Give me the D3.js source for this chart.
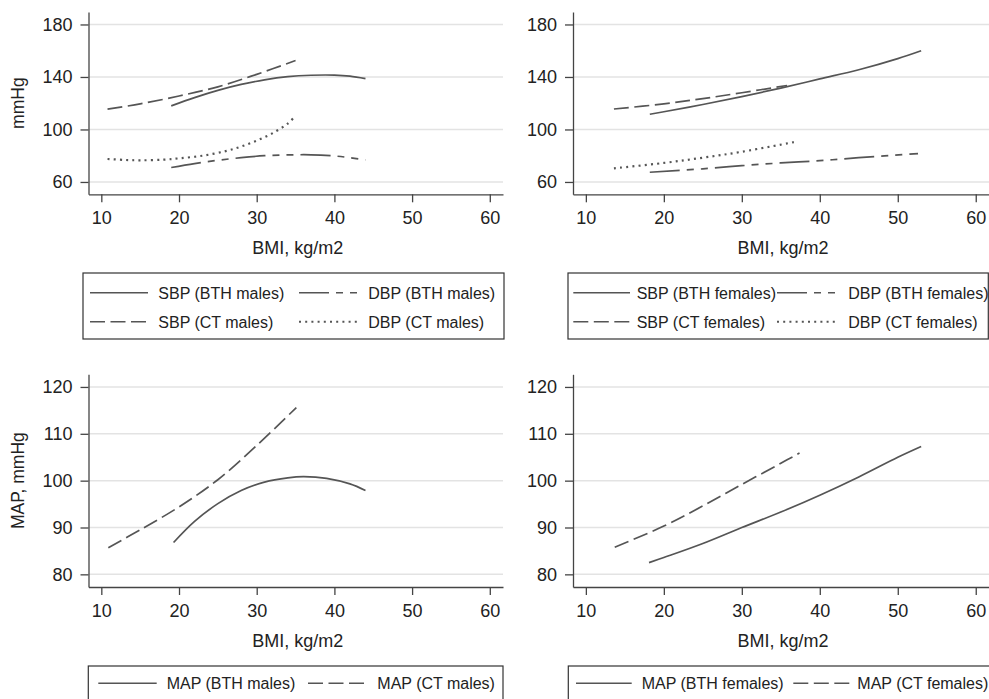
<!DOCTYPE html>
<html>
<head>
<meta charset="utf-8">
<script src="https://cdn.jsdelivr.net/npm/d3@7"></script>
<style>
  body { margin: 0; background: #fff; }
  svg text { font-family: "Liberation Sans", Arial, Helvetica, sans-serif; fill: #222; }
</style>
</head>
<body>
<svg width="989" height="699"></svg>
<script>
// tick values
var bmiTicks = [10, 20, 30, 40, 50, 60];
var bpTicks = [60, 100, 140, 180];
var mapTicks = [80, 90, 100, 110, 120];

// males, blood pressure [BMI, mmHg]
var sbpBthMales = [[19, 118], [22, 124.3], [25, 129.8], [28, 134.3], [31, 137.8], [34, 140.2], [37, 141.3], [40, 141.4], [42, 140.6], [44, 138.7]];
var dbpBthMales = [[19, 71], [22, 74], [25, 76.5], [28, 78.5], [31, 80], [34, 80.6], [37, 80.7], [40, 79.8], [42, 78.5], [44, 76.8]];
var sbpCtMales = [[10.8, 115.5], [15, 119.5], [20, 125.5], [25, 132.5], [30, 142], [35, 152.5]];
var dbpCtMales = [[10.8, 77.5], [13, 76.8], [15, 76.5], [18, 77], [20, 78], [23, 80], [26, 83.5], [28, 87], [30, 91.5], [32, 97], [34, 104.5], [34.7, 108.5]];

// females, blood pressure
var sbpBthFemales = [[18.2, 111.6], [20, 113.5], [25, 119], [30, 125], [35, 131.5], [40, 138.5], [45, 145.5], [50, 154], [53, 160]];
var dbpBthFemales = [[18.2, 67.4], [25, 70], [30, 72.4], [35, 74.5], [40, 76.2], [45, 78.5], [52.6, 81.6]];
var sbpCtFemales = [[13.6, 115.6], [20, 119.5], [25, 123.5], [30, 128], [35.8, 133.5]];
var dbpCtFemales = [[13.6, 70.4], [20, 74.5], [25, 78.5], [30, 83], [36.8, 90.5]];

// mean arterial pressure
var mapBthMales = [[19.3, 86.8], [22, 91.3], [25, 95.1], [28, 97.9], [31, 99.7], [34, 100.6], [36, 100.85], [39, 100.5], [42, 99.3], [44, 97.9]];
var mapCtMales = [[10.9, 85.7], [15, 89.5], [20, 94.4], [25, 100.2], [30, 107.5], [35.1, 115.6]];
var mapBthFemales = [[18.1, 82.5], [20, 83.6], [25, 86.6], [30, 90], [35, 93.3], [40, 96.9], [45, 100.8], [50, 105], [53, 107.3]];
var mapCtFemales = [[13.7, 85.8], [20, 90.3], [25, 94.6], [30, 99.2], [35, 103.7], [37.4, 105.9]];

var svg = d3.select('svg');

// line styles
var dashes = {
    solid: null,
    longShort: '30,7,7,7,7,7',
    longdash: '15,5.5',
    dot: '2,4.2'
};
var lineColor = '#555';

var panels = [
    {
        x: [88.5, 503], y: [194.3, 12], yDomain: [50.6, 189.5], yTicks: bpTicks, yLabel: 'mmHg',
        series: [
            { data: sbpBthMales, dash: 'solid', label: 'SBP (BTH males)' },
            { data: dbpBthMales, dash: 'longShort', label: 'DBP (BTH males)' },
            { data: sbpCtMales, dash: 'longdash', label: 'SBP (CT males)' },
            { data: dbpCtMales, dash: 'dot', label: 'DBP (CT males)' }
        ],
        box: [83, 273, 504, 339],
        cols: [[90, 148, 158.3], [299, 357, 368.3]], rows: [292.7, 321.7]
    },
    {
        x: [573, 989], y: [194.3, 12], yDomain: [50.6, 189.5], yTicks: bpTicks, yLabel: null,
        series: [
            { data: sbpBthFemales, dash: 'solid', label: 'SBP (BTH females)' },
            { data: dbpBthFemales, dash: 'longShort', label: 'DBP (BTH females)' },
            { data: sbpCtFemales, dash: 'longdash', label: 'SBP (CT females)' },
            { data: dbpCtFemales, dash: 'dot', label: 'DBP (CT females)' }
        ],
        box: [568, 273, 988.3, 339],
        cols: [[573.3, 630, 636.7], [777, 838.3, 848.3]], rows: [292.7, 321.7]
    },
    {
        x: [88.5, 503], y: [587, 374.3], yDomain: [77.3, 122.7], yTicks: mapTicks, yLabel: 'MAP, mmHg',
        series: [
            { data: mapBthMales, dash: 'solid', label: 'MAP (BTH males)' },
            { data: mapCtMales, dash: 'longdash', label: 'MAP (CT males)' }
        ],
        box: [88.3, 666, 503, 720],
        cols: [[98.3, 156.7, 166.7], [308, 368.3, 377.3]], rows: [683.3]
    },
    {
        x: [573, 989], y: [587, 374.3], yDomain: [77.3, 122.7], yTicks: mapTicks, yLabel: null,
        series: [
            { data: mapBthFemales, dash: 'solid', label: 'MAP (BTH females)' },
            { data: mapCtFemales, dash: 'longdash', label: 'MAP (CT females)' }
        ],
        box: [568.3, 666, 1000, 720],
        cols: [[576, 631.7, 641.7], [793.3, 850, 857.3]], rows: [683.3]
    }
];

panels.forEach(function(p) {
    var xScale = d3.scaleLinear().domain([8.35, 61.7]).range(p.x);
    var yScale = d3.scaleLinear().domain(p.yDomain).range(p.y);
    var g = svg.append('g');

    // gridlines
    g.selectAll('.grid')
        .data(p.yTicks)
        .enter()
        .append('line')
        .attr('x1', p.x[0])
        .attr('x2', p.x[1])
        .attr('y1', d => yScale(d))
        .attr('y2', d => yScale(d))
        .attr('stroke', '#e3e3e3')
        .attr('stroke-width', 1.5);

    // axes
    var yAxis = d3.axisLeft(yScale).tickValues(p.yTicks).tickSize(8).tickPadding(8).tickSizeOuter(0);
    var xAxis = d3.axisBottom(xScale).tickValues(bmiTicks).tickSize(8).tickPadding(9).tickSizeOuter(0);
    var yG = g.append('g')
        .attr('transform', `translate(${p.x[0]},0)`)
        .call(yAxis);
    var xG = g.append('g')
        .attr('transform', `translate(0,${p.y[0]})`)
        .call(xAxis);
    [yG, xG].forEach(function(a) {
        a.selectAll('path, line').attr('stroke', '#444').attr('stroke-width', 1.3);
        a.selectAll('text').style('font-size', '18px').attr('fill', '#222');
    });

    // axis titles
    g.append('text')
        .attr('x', (p.x[0] + p.x[1]) / 2 + 2)
        .attr('y', p.y[0] + 60)
        .attr('text-anchor', 'middle')
        .style('font-size', '18px')
        .text('BMI, kg/m2');
    if (p.yLabel) {
        g.append('text')
            .attr('transform', `translate(24,${(p.y[0] + p.y[1]) / 2}) rotate(-90)`)
            .attr('text-anchor', 'middle')
            .style('font-size', '17.5px')
            .text(p.yLabel);
    }

    // curves
    var line = d3.line()
        .x(d => xScale(d[0]))
        .y(d => yScale(d[1]))
        .curve(d3.curveCatmullRom);
    p.series.forEach(function(s) {
        g.append('path')
            .datum(s.data)
            .attr('d', line)
            .attr('fill', 'none')
            .attr('stroke', lineColor)
            .attr('stroke-width', s.dash === 'dot' ? 2.2 : 1.7)
            .attr('stroke-dasharray', dashes[s.dash]);
    });

    // legend box
    g.append('rect')
        .attr('x', p.box[0])
        .attr('y', p.box[1])
        .attr('width', p.box[2] - p.box[0])
        .attr('height', p.box[3] - p.box[1])
        .attr('fill', 'none')
        .attr('stroke', '#333')
        .attr('stroke-width', 1.2);
    p.series.forEach(function(s, i) {
        var col = p.cols[i % 2];
        var rowY = p.rows[Math.floor(i / 2)];
        g.append('line')
            .attr('x1', col[0])
            .attr('x2', col[1])
            .attr('y1', rowY)
            .attr('y2', rowY)
            .attr('stroke', lineColor)
            .attr('stroke-width', s.dash === 'dot' ? 2 : 1.6)
            .attr('stroke-dasharray', dashes[s.dash]);
        g.append('text')
            .attr('x', col[2])
            .attr('y', rowY + 5.8)
            .style('font-size', '16px')
            .text(s.label);
    });
});
</script>
</body>
</html>
